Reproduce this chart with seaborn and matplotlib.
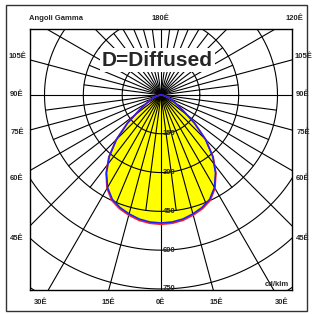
import numpy as np
import pandas as pd
import matplotlib
matplotlib.use("Agg")
import matplotlib.pyplot as plt
from matplotlib.patches import Rectangle
import seaborn as sns

# luminous intensity (cd/klm), gamma in degrees
gamma = [0, 5, 10, 15, 20, 25, 30, 35, 40, 45, 50, 55, 60, 65, 70, 75, 80, 85, 90]
cd_c0 = [500, 498, 492, 481, 468, 450, 417, 370, 314, 245, 170, 102, 66, 48, 32, 18, 8, 2, 0]
cd_c90 = [495, 493, 487, 476, 463, 445, 413, 367, 311, 243, 168, 101, 65, 47, 31, 18, 8, 2, 0]

ring_values = [150, 300, 450, 600, 750]
ring_labels = ["150", "300", "450", "600", "750"]
side_labels = ["105Ê", "90Ê", "75Ê", "60Ê", "45Ê"]
bottom_labels = ["30Ê", "15Ê", "0Ê", "15Ê", "30Ê"]
top_labels = ["Angoli Gamma", "180Ê", "120Ê"]

sns.set_style("white")
plt.rcParams['font.family'] = ['Liberation Sans', 'DejaVu Sans']

W, H = 313, 315
fig = plt.figure(figsize=(W / 100, H / 100), dpi=100)
ax = fig.add_axes([30 / W, 1 - 290 / H, 262 / W, 261 / H])
ax.set_xlim(-506, 506)
ax.set_ylim(-754, 255)
ax.set_xticks([])
ax.set_yticks([])
for s in ax.spines.values():
    s.set_linewidth(1.0)
    s.set_color("black")


def curve_df(values, name):
    g = np.array(gamma[::-1] + gamma[1:], dtype=float)
    g[:len(gamma)] *= -1
    v = np.array(values[::-1] + values[1:], dtype=float)
    rad = np.deg2rad(g)
    return pd.DataFrame({"x": v * np.sin(rad), "y": -v * np.cos(rad), "plane": name})


df = pd.concat([curve_df(cd_c0, "C0-C180"), curve_df(cd_c90, "C90-C270")])

c0 = df[df.plane == "C0-C180"]
ax.fill(c0.x, c0.y, color="#ffff00", zorder=1, lw=0)

# polar grid: rings and radial lines
t = np.linspace(0, 2 * np.pi, 400)
for r in ring_values + [900, 1050]:
    ax.plot(r * np.cos(t), r * np.sin(t), color="black", lw=0.8, zorder=2)
for a in np.arange(0, 360, 15):
    ar = np.deg2rad(a)
    ax.plot([0, 2000 * np.sin(ar)], [0, -2000 * np.cos(ar)], color="black", lw=0.8, zorder=2)
for a in np.arange(7.5, 360, 15):
    ar = np.deg2rad(a)
    length = 450 if (a < 90 or a > 270) else 300
    ax.plot([0, length * np.sin(ar)], [0, -length * np.cos(ar)], color="black", lw=0.8, zorder=2)

sns.lineplot(data=df[df.plane == "C0-C180"], x="x", y="y", sort=False, estimator=None,
             color="#ff2020", lw=1.2, legend=False, ax=ax, zorder=3)
sns.lineplot(data=df[df.plane == "C90-C270"], x="x", y="y", sort=False, estimator=None,
             color="#2020ff", lw=1.2, legend=False, ax=ax, zorder=4)
ax.set_xlabel("")
ax.set_ylabel("")

small = dict(fontsize=5.5, fontweight="bold")
for r, lab in zip(ring_values, ring_labels):
    ax.text(6, -r, lab, ha="left", va="center", zorder=5, **small)

ax.text(-15, 135, "D=Diffused", ha="center", va="center", fontsize=15, fontweight="bold",
        zorder=6, bbox=dict(facecolor="white", edgecolor="none", pad=1.5))
ax.text(496, -745, "cd/klm", ha="right", va="bottom", zorder=6, **small)

# labels around the frame (pixel positions of the reference)
side_y = [56, 95, 132, 178, 238]
for lab, y in zip(side_labels, side_y):
    fig.text(17 / W, 1 - y / H, lab, ha="center", va="center", **small)
    fig.text(303 / W, 1 - y / H, lab, ha="center", va="center", **small)
for lab, x in zip(bottom_labels, [41, 108, 160, 216, 282]):
    fig.text(x / W, 1 - 303 / H, lab, ha="center", va="center", **small)
fig.text(29 / W, 1 - 18 / H, top_labels[0], ha="left", va="center", **small)
fig.text(160 / W, 1 - 18 / H, top_labels[1], ha="center", va="center", **small)
fig.text(294 / W, 1 - 18 / H, top_labels[2], ha="center", va="center", **small)

fig.patches.append(Rectangle((6 / W, 1 - 311 / H), 301 / W, 306 / H, transform=fig.transFigure,
                             fill=False, edgecolor="#333333", lw=1.0))

fig.savefig("out.png", dpi=100)
